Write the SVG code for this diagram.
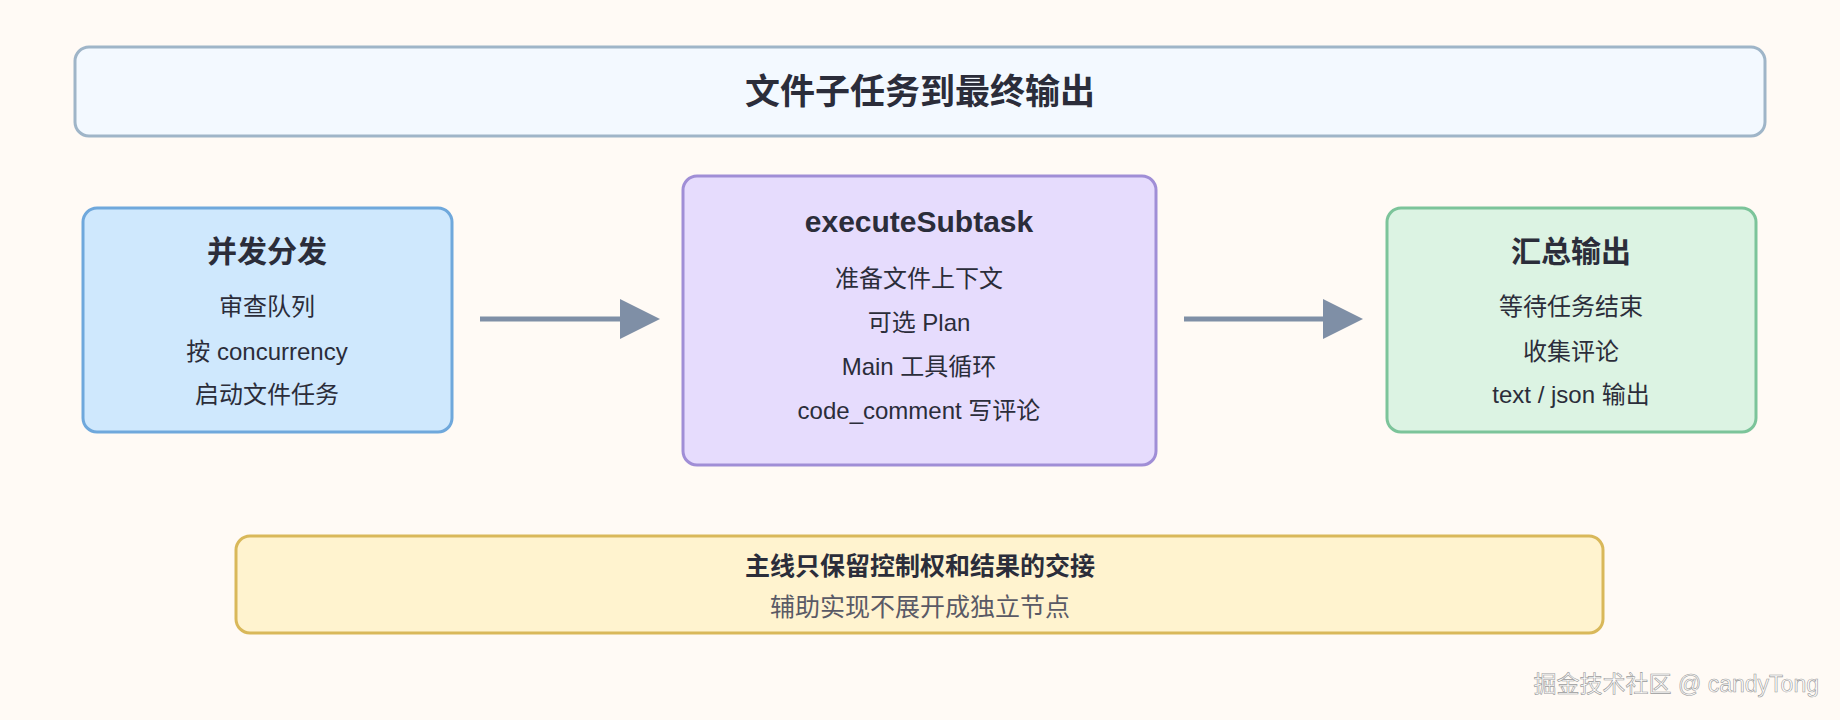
<svg xmlns="http://www.w3.org/2000/svg" width="1840" height="720" viewBox="0 0 1840 720">
<style>
text{font-family:"Liberation Sans","Noto Sans CJK SC",sans-serif;fill:#2b2d3a;text-anchor:middle;dominant-baseline:central}
.h{font-weight:bold;font-size:30px}
.t{font-size:24px}
.box{stroke-width:3}
</style>
<defs><marker id="ar" markerWidth="10" markerHeight="10" refX="2" refY="5" orient="auto" markerUnits="userSpaceOnUse" viewBox="0 0 10 10"><path d="M0,0L10,5L0,10z" fill="#7f8fa6"/></marker>
<marker id="a" viewBox="0 0 10 10" refX="0" refY="5" markerWidth="40" markerHeight="40" markerUnits="userSpaceOnUse" orient="auto"><path d="M0,0L10,5L0,10z" fill="#7f8fa6"/></marker></defs>
<rect width="1840" height="720" fill="#fffaf5"/>
<g id="title"><rect class="box" x="75" y="47" width="1690" height="89" rx="14" fill="#f3f9ff" stroke="#9fb5c8"/><text x="920" y="91" class="h" style="font-size:35px">文件子任务到最终输出</text></g>
<g id="dispatch"><rect class="box" x="83" y="208" width="369" height="224" rx="14" fill="#cfe8fd" stroke="#6fa8dc"/><text x="267" y="251" class="h">并发分发</text><text x="267" y="306" class="t">审查队列</text><text x="267" y="351" class="t">按 concurrency</text><text x="267" y="394" class="t">启动文件任务</text></g>
<g id="execute"><rect class="box" x="683" y="176" width="473" height="289" rx="14" fill="#e6dcfd" stroke="#a08ed6"/><text x="919" y="221" class="h">executeSubtask</text><text x="919" y="278" class="t">准备文件上下文</text><text x="919" y="322" class="t">可选 Plan</text><text x="919" y="366" class="t">Main 工具循环</text><text x="919" y="410" class="t">code_comment 写评论</text></g>
<g id="output"><rect class="box" x="1387" y="208" width="369" height="224" rx="14" fill="#dcf3e3" stroke="#7cc49a"/><text x="1571" y="251" class="h">汇总输出</text><text x="1571" y="306" class="t">等待任务结束</text><text x="1571" y="351" class="t">收集评论</text><text x="1571" y="394" class="t">text / json 输出</text></g>
<g id="note"><rect class="box" x="236" y="536" width="1367" height="97" rx="14" fill="#fff3cf" stroke="#d9b85a"/><text x="920" y="566" style="font-size:25px;font-weight:bold">主线只保留控制权和结果的交接</text><text x="920" y="607" style="font-size:25px;fill:#5a5a66">辅助实现不展开成独立节点</text></g>
<g id="connectors" stroke="#7f8fa6" stroke-width="5" fill="none">
<line x1="480" y1="319" x2="620" y2="319" marker-end="url(#a)"/>
<line x1="1184" y1="319" x2="1323" y2="319" marker-end="url(#a)"/>
</g>
<text x="1819" y="684" style="font-size:23px;fill:#ffffff;text-anchor:end;stroke:#9a9a9a;stroke-width:0.6">掘金技术社区 @ candyTong</text>
</svg>
